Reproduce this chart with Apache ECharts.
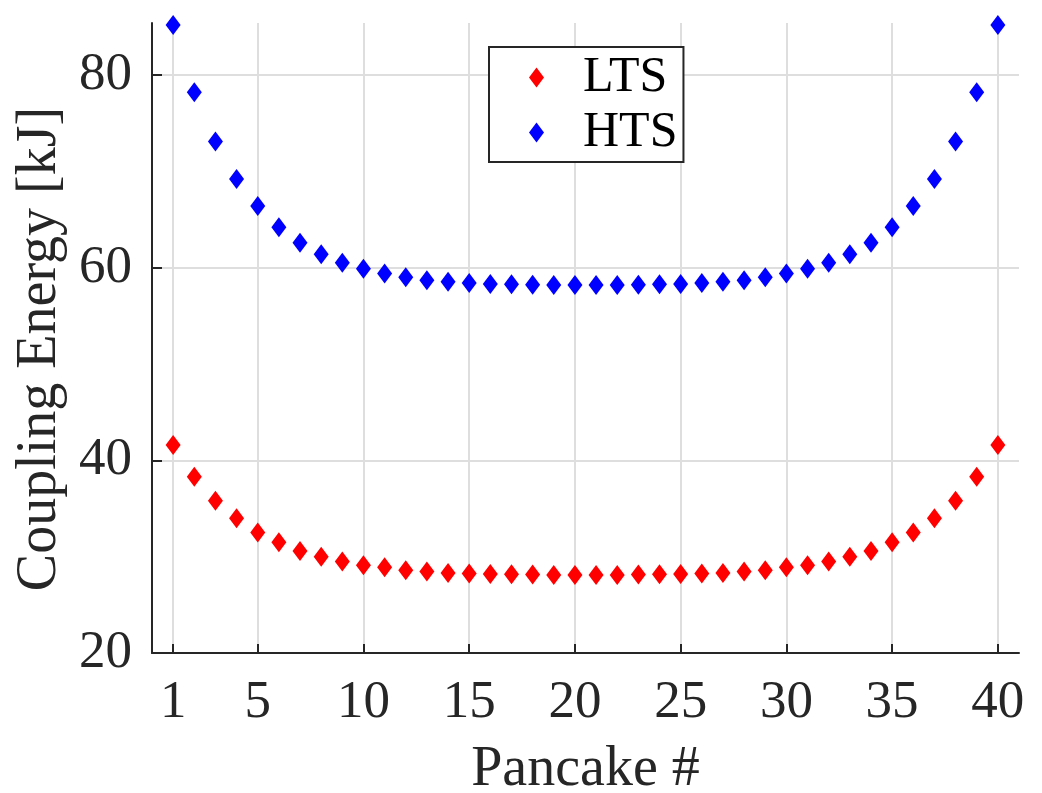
<!DOCTYPE html>
<html>
<head>
<meta charset="utf-8">
<title>Coupling Energy per Pancake</title>
<script src="https://cdn.jsdelivr.net/npm/echarts@6/dist/echarts.min.js"></script>
<style>
  html, body { margin: 0; padding: 0; background: #ffffff; }
  #chart { width: 1042px; height: 793px; }
</style>
</head>
<body>
<div id="chart"></div>
<script>
// Pancake index along the coil stack
const pancakes = [1, 2, 3, 4, 5, 6, 7, 8, 9, 10,
  11, 12, 13, 14, 15, 16, 17, 18, 19, 20,
  21, 22, 23, 24, 25, 26, 27, 28, 29, 30,
  31, 32, 33, 34, 35, 36, 37, 38, 39, 40];

// Coupling energy per pancake [kJ]
const ltsEnergy = [41.6, 38.3, 35.8, 34.0, 32.5, 31.5, 30.6, 30.0, 29.5, 29.1,
  28.9, 28.6, 28.45, 28.3, 28.25, 28.2, 28.17, 28.14, 28.1, 28.1,
  28.1, 28.1, 28.14, 28.17, 28.2, 28.25, 28.3, 28.45, 28.6, 28.9,
  29.1, 29.5, 30.0, 30.6, 31.5, 32.5, 34.0, 35.8, 38.3, 41.6];
const htsEnergy = [85.2, 78.2, 73.1, 69.2, 66.4, 64.2, 62.6, 61.4, 60.5, 59.9,
  59.4, 59.0, 58.7, 58.55, 58.4, 58.3, 58.27, 58.24, 58.2, 58.2,
  58.2, 58.2, 58.24, 58.27, 58.3, 58.4, 58.55, 58.7, 59.0, 59.4,
  59.9, 60.5, 61.4, 62.6, 64.2, 66.4, 69.2, 73.1, 78.2, 85.2];

// Tick positions
const xTicks = [1, 5, 10, 15, 20, 25, 30, 35, 40];
const yTicks = [20, 40, 60, 80];

const FONT = '"Liberation Serif", "Times New Roman", serif';
const INK = '#262626';
const GRID = '#dedede';

const pairs = (xs, ys) => xs.map((x, i) => [x, ys[i]]);

const chart = echarts.init(document.getElementById('chart'), null, { renderer: 'canvas' });

chart.setOption({
  backgroundColor: '#ffffff',
  animation: false,
  grid: { left: 152, right: 23, top: 23, bottom: 140, containLabel: false, outerBoundsMode: 'none' },
  legend: {
    orient: 'vertical',
    left: 489,
    top: 47,
    padding: [3, 6, 2, 40],
    itemGap: 0,
    itemWidth: 15,
    itemHeight: 20,
    backgroundColor: '#ffffff',
    borderColor: INK,
    borderWidth: 2,
    textStyle: {
      fontFamily: FONT,
      fontSize: 50,
      color: '#000000',
      lineHeight: 55,
      padding: [0, 0, 0, 34]
    },
    data: [
      { name: 'LTS', icon: 'diamond' },
      { name: 'HTS', icon: 'diamond' }
    ]
  },
  xAxis: {
    type: 'value',
    min: 0,
    max: 41,
    name: 'Pancake #',
    nameLocation: 'middle',
    nameGap: 89,
    nameTextStyle: { fontFamily: FONT, fontSize: 56, color: INK, lineHeight: 56 },
    axisLine: { show: true, onZero: false, lineStyle: { color: INK, width: 2 } },
    axisTick: { show: true, inside: true, length: 9, customValues: xTicks, lineStyle: { color: INK, width: 2 } },
    axisLabel: { customValues: xTicks, margin: 24, fontFamily: FONT, fontSize: 53, color: INK, lineHeight: 53 },
    splitLine: { show: true, lineStyle: { color: GRID, width: 2 } }
  },
  yAxis: {
    type: 'value',
    min: 20,
    max: 85.4,
    name: 'Coupling Energy [kJ]',
    nameLocation: 'middle',
    nameGap: 78,
    nameTextStyle: { fontFamily: FONT, fontSize: 56, color: INK, lineHeight: 56, padding: [0, 22, 0, 0] },
    axisLine: { show: true, onZero: false, lineStyle: { color: INK, width: 2 } },
    axisTick: { show: true, inside: true, length: 10, customValues: yTicks, lineStyle: { color: INK, width: 2 } },
    axisLabel: { customValues: yTicks, margin: 20, fontFamily: FONT, fontSize: 53, color: INK },
    splitLine: { show: true, lineStyle: { color: GRID, width: 2 } }
  },
  series: [
    {
      name: 'LTS',
      type: 'scatter',
      symbol: 'diamond',
      symbolSize: [15, 20],
      itemStyle: { color: '#ff0000', opacity: 1 },
      data: pairs(pancakes, ltsEnergy),
      z: 3
    },
    {
      name: 'HTS',
      type: 'scatter',
      symbol: 'diamond',
      symbolSize: [15, 20],
      itemStyle: { color: '#0000ff', opacity: 1 },
      data: pairs(pancakes, htsEnergy),
      z: 3
    }
  ]
});
</script>
</body>
</html>
